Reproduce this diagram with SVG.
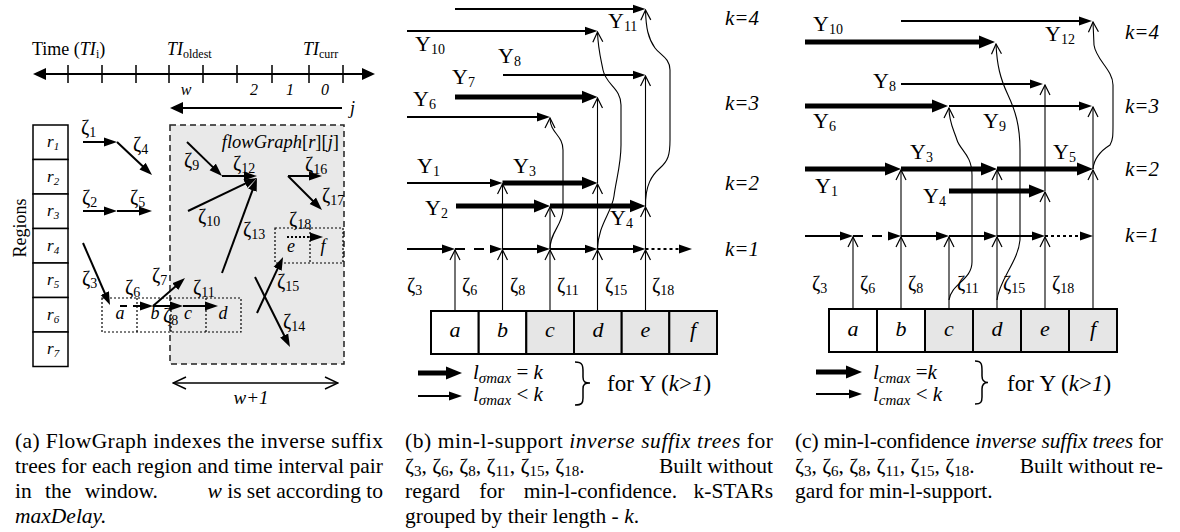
<svg xmlns="http://www.w3.org/2000/svg" width="1180" height="532" viewBox="0 0 1180 532">
<defs>
<style>
text{font-family:"Liberation Serif","DejaVu Serif",serif;fill:#000}
.it{font-style:italic}
.z{font-size:20px}
.s{font-size:14px}
.u{font-size:22px}
.us{font-size:14px}
.k{font-size:21px;font-style:italic}
.bl{font-size:22px;font-style:italic;text-anchor:middle}
.cap{font-size:21.5px}
.cs{font-size:15px}
.thin{stroke:#000;stroke-width:2;fill:none;marker-end:url(#ht)}
.thick{stroke:#000;stroke-width:5;fill:none;marker-end:url(#hk)}
.vc{stroke:#000;stroke-width:1.1;fill:none;marker-end:url(#ho)}
.cell{stroke:#000;stroke-width:2}
.g{fill:#e6e6e6}
.w{fill:#fff}
.dot{stroke:#000;stroke-width:1.2;fill:none;stroke-dasharray:2,2}
</style>
<marker id="ht" viewBox="0 -5 13 10" refX="1" refY="0" markerWidth="13" markerHeight="10" orient="auto" markerUnits="userSpaceOnUse"><path d="M0,-4.5 L13,0 L0,4.5z" fill="#000"/></marker>
<marker id="hk" viewBox="0 -7 16 14" refX="1" refY="0" markerWidth="16" markerHeight="14" orient="auto" markerUnits="userSpaceOnUse"><path d="M0,-6.5 L16,0 L0,6.5z" fill="#000"/></marker>
<marker id="ho" viewBox="-11 -6 12 12" refX="0" refY="0" markerWidth="12" markerHeight="12" orient="auto" markerUnits="userSpaceOnUse"><path d="M-10,-5 L0,0 L-10,5" fill="none" stroke="#000" stroke-width="1.2"/></marker>
<marker id="hw" viewBox="-14 -7 15 14" refX="0" refY="0" markerWidth="15" markerHeight="14" orient="auto-start-reverse" markerUnits="userSpaceOnUse"><path d="M-13,-6 L0,0 L-13,6" fill="none" stroke="#000" stroke-width="1.5"/></marker>
<marker id="hax" viewBox="0 -6 13 12" refX="1" refY="0" markerWidth="13" markerHeight="12" orient="auto-start-reverse" markerUnits="userSpaceOnUse"><path d="M0,-6 L13,0 L0,6z" fill="#000"/></marker>
</defs>
<rect width="1180" height="532" fill="#fff"/>

<!-- ================= PANEL A ================= -->
<g id="panel-a">
 <g id="time-axis">
  <line x1="45" y1="74" x2="363" y2="74" stroke="#000" stroke-width="2" marker-start="url(#hax)" marker-end="url(#hax)"/>
  <path d="M68,65V83M102,65V83M136,65V83M169,65V83M203,65V83M237,65V83M272,65V83M309,65V83M343,65V83" stroke="#000" stroke-width="1.5"/>
  <text x="32" y="55" font-size="18">Time (<tspan class="it">TI</tspan><tspan font-size="12" dy="3">i</tspan><tspan dy="-3">)</tspan></text>
  <text x="167" y="55" font-size="18"><tspan class="it">TI</tspan><tspan font-size="12" dy="3">oldest</tspan></text>
  <text x="303" y="55" font-size="18"><tspan class="it">TI</tspan><tspan font-size="12" dy="3">curr</tspan></text>
  <text class="it" font-size="16" text-anchor="middle" x="186" y="95">w</text>
  <text class="it" font-size="16" text-anchor="middle" x="254" y="95">2</text>
  <text class="it" font-size="16" text-anchor="middle" x="290" y="95">1</text>
  <text class="it" font-size="16" text-anchor="middle" x="325" y="95">0</text>
  <line x1="342" y1="108" x2="182" y2="108" stroke="#000" stroke-width="2" marker-end="url(#hax)"/>
  <text class="it" font-size="18" x="350" y="114">j</text>
 </g>
 <g id="flowgraph-area">
  <rect x="170" y="125" width="174" height="239" fill="#e9e9e9" stroke="#222" stroke-width="1.5" stroke-dasharray="6,4"/>
  <text x="339" y="147.5" font-size="18.5" text-anchor="end"><tspan class="it">flowGraph</tspan>[<tspan class="it">r</tspan>][<tspan class="it">j</tspan>]</text>
 </g>
 <g id="regions">
  <text x="26" y="228" font-size="18" text-anchor="middle" transform="rotate(-90 26 228)">Regions</text>
  <g id="r1"><rect x="33" y="125" width="35" height="34.5" fill="#fff" stroke="#000" stroke-width="1.5"/><text x="47" y="147" font-size="17" class="it">r<tspan font-size="11" dy="3">1</tspan></text></g>
  <g id="r2"><rect x="33" y="159.5" width="35" height="34.5" fill="#fff" stroke="#000" stroke-width="1.5"/><text x="47" y="181.5" font-size="17" class="it">r<tspan font-size="11" dy="3">2</tspan></text></g>
  <g id="r3"><rect x="33" y="194" width="35" height="34.5" fill="#fff" stroke="#000" stroke-width="1.5"/><text x="47" y="216" font-size="17" class="it">r<tspan font-size="11" dy="3">3</tspan></text></g>
  <g id="r4"><rect x="33" y="228.5" width="35" height="34.5" fill="#fff" stroke="#000" stroke-width="1.5"/><text x="47" y="250.5" font-size="17" class="it">r<tspan font-size="11" dy="3">4</tspan></text></g>
  <g id="r5"><rect x="33" y="263" width="35" height="34.5" fill="#fff" stroke="#000" stroke-width="1.5"/><text x="47" y="285" font-size="17" class="it">r<tspan font-size="11" dy="3">5</tspan></text></g>
  <g id="r6"><rect x="33" y="297.5" width="35" height="34.5" fill="#fff" stroke="#000" stroke-width="1.5"/><text x="47" y="319.5" font-size="17" class="it">r<tspan font-size="11" dy="3">6</tspan></text></g>
  <g id="r7"><rect x="33" y="332" width="35" height="34.5" fill="#fff" stroke="#000" stroke-width="1.5"/><text x="47" y="354" font-size="17" class="it">r<tspan font-size="11" dy="3">7</tspan></text></g>
 </g>
 <g id="cells-abcd">
  <rect x="102" y="298" width="139" height="34" class="dot"/>
  <path d="M137,298V332M171,298V332M206,298V332" class="dot"/>
  <text class="it" font-size="18" text-anchor="middle" x="120" y="319">a</text>
  <text class="it" font-size="18" text-anchor="middle" x="155" y="319">b</text>
  <text class="it" font-size="18" text-anchor="middle" x="188" y="319">c</text>
  <text class="it" font-size="18" text-anchor="middle" x="223" y="319">d</text>
 </g>
 <g id="cells-ef">
  <rect x="275" y="228" width="68" height="35" class="dot"/>
  <path d="M310,228V263" class="dot"/>
  <text class="it" font-size="18" text-anchor="middle" x="291" y="252">e</text>
  <text class="it" font-size="18" text-anchor="middle" x="323" y="252">f</text>
 </g>
 <g id="connectors-a">
  <line x1="83" y1="142" x2="105" y2="142" class="thin"/>
  <line x1="117" y1="142" x2="143.3" y2="166.8" class="thin"/>
  <line x1="83" y1="211" x2="105" y2="211" class="thin"/>
  <line x1="117" y1="211" x2="140" y2="211" class="thin"/>
  <line x1="83" y1="243" x2="105.2" y2="294" class="thin"/>
  <line x1="120" y1="306" x2="141" y2="306" class="thin" stroke-dasharray="7,6"/>
  <line x1="153" y1="306" x2="171" y2="306" class="thin"/>
  <line x1="183" y1="306" x2="206" y2="306" class="thin"/>
  <line x1="153" y1="306" x2="176" y2="285.9" class="thin"/>
  <line x1="222" y1="273" x2="252.8" y2="189.3" class="thin"/>
  <line x1="188" y1="211" x2="246.2" y2="183.2" class="thin"/>
  <line x1="187" y1="142" x2="213.4" y2="167.6" class="thin"/>
  <line x1="222" y1="176" x2="245" y2="176" class="thin"/>
  <line x1="288" y1="176" x2="310" y2="176" class="thin"/>
  <line x1="288" y1="176" x2="313.5" y2="201.5" class="thin"/>
  <line x1="287" y1="237" x2="311" y2="237" class="thin" stroke-dasharray="2,2"/>
  <line x1="257" y1="313" x2="278" y2="267.9" class="thin"/>
  <line x1="255" y1="277" x2="284.6" y2="336.3" class="thin"/>
  <line x1="173" y1="383" x2="338" y2="383" stroke="#000" stroke-width="1.5" marker-start="url(#hw)" marker-end="url(#hw)"/>
 </g>
 <g id="labels-a">
  <text class="z" x="81" y="134">ζ<tspan class="s" dy="3">1</tspan></text>
  <text class="z" x="133" y="151">ζ<tspan class="s" dy="3">4</tspan></text>
  <text class="z" x="82" y="204">ζ<tspan class="s" dy="3">2</tspan></text>
  <text class="z" x="130" y="204">ζ<tspan class="s" dy="3">5</tspan></text>
  <text class="z" x="82" y="285">ζ<tspan class="s" dy="3">3</tspan></text>
  <text class="z" x="125" y="294">ζ<tspan class="s" dy="3">6</tspan></text>
  <text class="z" x="152" y="282">ζ<tspan class="s" dy="3">7</tspan></text>
  <text class="z" x="163" y="322">ζ<tspan class="s" dy="3">8</tspan></text>
  <text class="z" x="193" y="294">ζ<tspan class="s" dy="3">11</tspan></text>
  <text class="z" x="184" y="167">ζ<tspan class="s" dy="3">9</tspan></text>
  <text class="z" x="198" y="223">ζ<tspan class="s" dy="3">10</tspan></text>
  <text class="z" x="233" y="170">ζ<tspan class="s" dy="3">12</tspan></text>
  <text class="z" x="243" y="236">ζ<tspan class="s" dy="3">13</tspan></text>
  <text class="z" x="305" y="171">ζ<tspan class="s" dy="3">16</tspan></text>
  <text class="z" x="322" y="202">ζ<tspan class="s" dy="3">17</tspan></text>
  <text class="z" x="289" y="226">ζ<tspan class="s" dy="3">18</tspan></text>
  <text class="z" x="277" y="288">ζ<tspan class="s" dy="3">15</tspan></text>
  <text class="z" x="283" y="328">ζ<tspan class="s" dy="3">14</tspan></text>
  <text class="it" font-size="19" text-anchor="middle" x="251" y="404">w+1</text>
 </g>
</g>

<!-- ================= PANEL B ================= -->
<g id="panel-b">
 <g id="cells-b">
  <rect x="431" y="311" width="47.7" height="43" class="cell w"/>
  <rect x="478.7" y="311" width="47.6" height="43" class="cell w"/>
  <rect x="526.3" y="311" width="47.7" height="43" class="cell g"/>
  <rect x="574" y="311" width="47.7" height="43" class="cell g"/>
  <rect x="621.7" y="311" width="47.6" height="43" class="cell g"/>
  <rect x="669.3" y="311" width="47.7" height="43" class="cell g"/>
  <text class="bl" x="455" y="337">a</text>
  <text class="bl" x="502.5" y="337">b</text>
  <text class="bl" x="550" y="337">c</text>
  <text class="bl" x="598" y="337">d</text>
  <text class="bl" x="645.5" y="337">e</text>
  <text class="bl" x="693" y="337">f</text>
 </g>
 <g id="connectors-b">
  <line x1="455" y1="9" x2="633.5" y2="9" class="thin"/>
  <line x1="407" y1="31" x2="585.5" y2="31" class="thin"/>
  <line x1="503" y1="75" x2="633.5" y2="75" class="thin"/>
  <line x1="455" y1="97" x2="582.5" y2="97" class="thick"/>
  <line x1="407" y1="117" x2="538" y2="117" class="thin"/>
  <line x1="407" y1="183" x2="490.5" y2="183" class="thin"/>
  <line x1="502.5" y1="183" x2="582.5" y2="183" class="thick"/>
  <line x1="456" y1="206" x2="535" y2="206" class="thick"/>
  <line x1="550" y1="206" x2="630.5" y2="206" class="thick"/>
  <line x1="407" y1="249" x2="443" y2="249" class="thin"/>
  <line x1="455" y1="249" x2="490.5" y2="249" class="thin" stroke-dasharray="10,9"/>
  <line x1="502.5" y1="249" x2="538" y2="249" class="thin"/>
  <line x1="550" y1="249" x2="585.5" y2="249" class="thin"/>
  <line x1="597.5" y1="249" x2="633.5" y2="249" class="thin"/>
  <line x1="645.5" y1="249" x2="680" y2="249" class="thin" stroke-dasharray="3,3"/>
  <line x1="455" y1="311" x2="455" y2="250" class="vc"/>
  <line x1="502.5" y1="311" x2="502.5" y2="250" class="vc"/>
  <line x1="502.5" y1="249" x2="502.5" y2="184" class="vc"/>
  <line x1="550" y1="311" x2="550" y2="250" class="vc"/>
  <line x1="550" y1="249" x2="550" y2="207" class="vc"/>
  <line x1="597.5" y1="311" x2="597.5" y2="250" class="vc"/>
  <line x1="597.5" y1="249" x2="597.5" y2="184" class="vc"/>
  <line x1="597.5" y1="183" x2="597.5" y2="98" class="vc"/>
  <line x1="645.5" y1="311" x2="645.5" y2="250" class="vc"/>
  <line x1="645.5" y1="249" x2="645.5" y2="207" class="vc"/>
  <line x1="645.5" y1="206" x2="645.5" y2="76" class="vc"/>
  <path d="M550,249 C550,232 562,226 563,210 L563,150 C563,135 550,133 550,118" class="vc"/>
  <path d="M597.5,249 C598,225 612,212 614,196 C616,180 621,165 621,145 L621,105 C621,88 606,85 603,70 C600,55 598,48 597.5,32" class="vc"/>
  <path d="M645.5,207 C645,185 652,175 660,168 C668,161 670,155 670,140 L670,70 C670,58 660,55 655,48 C648,38 646,28 645.5,10" class="vc"/>
 </g>
 <g id="labels-b">
  <text class="u" x="608" y="28">Υ<tspan class="us" dy="3">11</tspan></text>
  <text class="u" x="415" y="51">Υ<tspan class="us" dy="3">10</tspan></text>
  <text class="u" x="498" y="63">Υ<tspan class="us" dy="3">8</tspan></text>
  <text class="u" x="452" y="84">Υ<tspan class="us" dy="3">7</tspan></text>
  <text class="u" x="413" y="106">Υ<tspan class="us" dy="3">6</tspan></text>
  <text class="u" x="417" y="173">Υ<tspan class="us" dy="3">1</tspan></text>
  <text class="u" x="513" y="173">Υ<tspan class="us" dy="3">3</tspan></text>
  <text class="u" x="425" y="215">Υ<tspan class="us" dy="3">2</tspan></text>
  <text class="u" x="610" y="225">Υ<tspan class="us" dy="3">4</tspan></text>
  <text class="k" x="725" y="25">k=4</text>
  <text class="k" x="725" y="110">k=3</text>
  <text class="k" x="725" y="190">k=2</text>
  <text class="k" x="725" y="256">k=1</text>
  <text class="z" x="407" y="292">ζ<tspan class="s" dy="3">3</tspan></text>
  <text class="z" x="462" y="292">ζ<tspan class="s" dy="3">6</tspan></text>
  <text class="z" x="510" y="292">ζ<tspan class="s" dy="3">8</tspan></text>
  <text class="z" x="557" y="292">ζ<tspan class="s" dy="3">11</tspan></text>
  <text class="z" x="605" y="292">ζ<tspan class="s" dy="3">15</tspan></text>
  <text class="z" x="652" y="292">ζ<tspan class="s" dy="3">18</tspan></text>
 </g>
 <g id="legend-b">
  <line x1="418" y1="373" x2="447" y2="373" class="thick"/>
  <line x1="418" y1="396" x2="450" y2="396" class="thin"/>
  <text font-size="21"><tspan x="473" y="379"><tspan class="it">l</tspan><tspan class="it" font-size="15" dy="4">σmax</tspan><tspan dy="-4"> = </tspan><tspan class="it">k</tspan></tspan><tspan x="473" y="401"><tspan class="it">l</tspan><tspan class="it" font-size="15" dy="4">σmax</tspan><tspan dy="-4"> &lt; </tspan><tspan class="it">k</tspan></tspan></text>
  <path d="M575,362 C583,362 583,366 583,372 L583,377 C583,382 585,383 590,383 C585,383 583,384 583,389 L583,398 C583,403 582,405 575,405" fill="none" stroke="#000" stroke-width="1.5"/>
  <text x="607" y="391" font-size="23">for Υ (<tspan class="it">k</tspan>&gt;<tspan class="it">1</tspan>)</text>
 </g>
</g>

<!-- ================= PANEL C ================= -->
<g id="panel-c">
 <g id="cells-c">
  <rect x="829" y="309" width="48" height="43" class="cell w"/>
  <rect x="877" y="309" width="48" height="43" class="cell w"/>
  <rect x="925" y="309" width="48" height="43" class="cell g"/>
  <rect x="973" y="309" width="48" height="43" class="cell g"/>
  <rect x="1021" y="309" width="48" height="43" class="cell g"/>
  <rect x="1069" y="309" width="48" height="43" class="cell g"/>
  <text class="bl" x="853" y="336">a</text>
  <text class="bl" x="901" y="336">b</text>
  <text class="bl" x="949" y="336">c</text>
  <text class="bl" x="997" y="336">d</text>
  <text class="bl" x="1045" y="336">e</text>
  <text class="bl" x="1093" y="336">f</text>
 </g>
 <g id="connectors-c">
  <line x1="901" y1="21" x2="1080" y2="21" class="thin"/>
  <line x1="805" y1="42" x2="980" y2="42" class="thick"/>
  <line x1="901" y1="84" x2="1031" y2="84" class="thin"/>
  <line x1="805" y1="106" x2="933" y2="106" class="thick"/>
  <line x1="949" y1="106" x2="1080" y2="106" class="thin"/>
  <line x1="805" y1="169" x2="886" y2="169" class="thick"/>
  <line x1="901" y1="169" x2="982" y2="169" class="thick"/>
  <line x1="997" y1="169" x2="1078" y2="169" class="thick"/>
  <line x1="949" y1="191" x2="1030" y2="191" class="thick"/>
  <line x1="805" y1="236" x2="841" y2="236" class="thin"/>
  <line x1="853" y1="236" x2="889" y2="236" class="thin" stroke-dasharray="10,9"/>
  <line x1="901" y1="236" x2="937" y2="236" class="thin"/>
  <line x1="949" y1="236" x2="985" y2="236" class="thin"/>
  <line x1="997" y1="236" x2="1033" y2="236" class="thin"/>
  <line x1="1045" y1="236" x2="1081" y2="236" class="thin" stroke-dasharray="3,3"/>
  <line x1="853" y1="309" x2="853" y2="237" class="vc"/>
  <line x1="901" y1="309" x2="901" y2="237" class="vc"/>
  <line x1="901" y1="236" x2="901" y2="170" class="vc"/>
  <line x1="949" y1="309" x2="949" y2="237" class="vc"/>
  <line x1="997" y1="309" x2="997" y2="237" class="vc"/>
  <line x1="997" y1="236" x2="997" y2="170" class="vc"/>
  <line x1="1045" y1="309" x2="1045" y2="237" class="vc"/>
  <line x1="1045" y1="236" x2="1045" y2="192" class="vc"/>
  <line x1="1045" y1="191" x2="1045" y2="85" class="vc"/>
  <line x1="1093" y1="309" x2="1093" y2="170" class="vc"/>
  <line x1="1093" y1="169" x2="1093" y2="107" class="vc"/>
  <path d="M949,300 C951,284 972,280 972,262 L972,175 C972,155 960,150 957,140 C953,128 949,122 949,108" class="vc"/>
  <path d="M997,300 C999,280 1018,262 1020,240 L1020,150 C1020,125 1015,110 1008,95 C1000,78 997,65 996,44" class="vc"/>
  <path d="M1093,169 C1094,158 1102,150 1110,145 C1113,140 1113,135 1113,125 L1113,85 C1113,70 1096,60 1094,45 L1093,22" class="vc"/>
 </g>
 <g id="labels-c">
  <text class="u" x="813" y="31">Υ<tspan class="us" dy="3">10</tspan></text>
  <text class="u" x="1045" y="41">Υ<tspan class="us" dy="3">12</tspan></text>
  <text class="u" x="873" y="88">Υ<tspan class="us" dy="3">8</tspan></text>
  <text class="u" x="813" y="128">Υ<tspan class="us" dy="3">6</tspan></text>
  <text class="u" x="983" y="128">Υ<tspan class="us" dy="3">9</tspan></text>
  <text class="u" x="910" y="159">Υ<tspan class="us" dy="3">3</tspan></text>
  <text class="u" x="1053" y="159">Υ<tspan class="us" dy="3">5</tspan></text>
  <text class="u" x="815" y="193">Υ<tspan class="us" dy="3">1</tspan></text>
  <text class="u" x="923" y="203">Υ<tspan class="us" dy="3">4</tspan></text>
  <text class="k" x="1125" y="39">k=4</text>
  <text class="k" x="1125" y="113">k=3</text>
  <text class="k" x="1125" y="176">k=2</text>
  <text class="k" x="1125" y="242">k=1</text>
  <text class="z" x="812" y="290">ζ<tspan class="s" dy="3">3</tspan></text>
  <text class="z" x="860" y="290">ζ<tspan class="s" dy="3">6</tspan></text>
  <text class="z" x="908" y="290">ζ<tspan class="s" dy="3">8</tspan></text>
  <text class="z" x="957" y="290">ζ<tspan class="s" dy="3">11</tspan></text>
  <text class="z" x="1003" y="290">ζ<tspan class="s" dy="3">15</tspan></text>
  <text class="z" x="1052" y="290">ζ<tspan class="s" dy="3">18</tspan></text>
 </g>
 <g id="legend-c">
  <line x1="816" y1="372" x2="847" y2="372" class="thick"/>
  <line x1="816" y1="394" x2="850" y2="394" class="thin"/>
  <text font-size="21"><tspan x="873" y="379"><tspan class="it">l</tspan><tspan class="it" font-size="15" dy="4">cmax</tspan><tspan dy="-4"> =</tspan><tspan class="it">k</tspan></tspan><tspan x="873" y="401"><tspan class="it">l</tspan><tspan class="it" font-size="15" dy="4">cmax</tspan><tspan dy="-4"> &lt; </tspan><tspan class="it">k</tspan></tspan></text>
  <path d="M975,361 C982,361 982,365 982,371 L982,376 C982,381 984,382.5 988,382.5 C984,382.5 982,384 982,389 L982,397 C982,402 981,404 975,404" fill="none" stroke="#000" stroke-width="1.5"/>
  <text x="1007" y="391" font-size="23">for Υ (<tspan class="it">k</tspan>&gt;<tspan class="it">1</tspan>)</text>
 </g>
</g>

<!-- ================= CAPTIONS ================= -->
<g id="captions">
 <text class="cap" x="15" y="448" textLength="368" lengthAdjust="spacing">(a) FlowGraph indexes the inverse suffix</text>
 <text class="cap" x="15" y="473" textLength="368" lengthAdjust="spacing">trees for each region and time interval pair</text>
 <text class="cap" x="15" y="498" word-spacing="8">in the window.</text>
 <text class="cap" x="383" y="498" text-anchor="end"><tspan class="it">w</tspan> is set according to</text>
 <text class="cap it" x="15" y="523">maxDelay.</text>

 <text class="cap" x="405" y="448" textLength="368" lengthAdjust="spacing">(b) min-l-support <tspan class="it">inverse suffix trees</tspan> for</text>
 <text class="cap" x="405" y="473">ζ<tspan class="cs" dy="3">3</tspan><tspan dy="-3">, ζ</tspan><tspan class="cs" dy="3">6</tspan><tspan dy="-3">, ζ</tspan><tspan class="cs" dy="3">8</tspan><tspan dy="-3">, ζ</tspan><tspan class="cs" dy="3">11</tspan><tspan dy="-3">, ζ</tspan><tspan class="cs" dy="3">15</tspan><tspan dy="-3">, ζ</tspan><tspan class="cs" dy="3">18</tspan><tspan dy="-3">.</tspan></text>
 <text class="cap" x="773" y="473" text-anchor="end">Built without</text>
 <text class="cap" x="405" y="498" word-spacing="14">regard for min-l-confidence.</text>
 <text class="cap" x="773" y="498" text-anchor="end">k-STARs</text>
 <text class="cap" x="405" y="523">grouped by their length - <tspan class="it">k</tspan>.</text>

 <text class="cap" x="795" y="448" textLength="368" lengthAdjust="spacing">(c) min-l-confidence <tspan class="it">inverse suffix trees</tspan> for</text>
 <text class="cap" x="795" y="473">ζ<tspan class="cs" dy="3">3</tspan><tspan dy="-3">, ζ</tspan><tspan class="cs" dy="3">6</tspan><tspan dy="-3">, ζ</tspan><tspan class="cs" dy="3">8</tspan><tspan dy="-3">, ζ</tspan><tspan class="cs" dy="3">11</tspan><tspan dy="-3">, ζ</tspan><tspan class="cs" dy="3">15</tspan><tspan dy="-3">, ζ</tspan><tspan class="cs" dy="3">18</tspan><tspan dy="-3">.</tspan></text>
 <text class="cap" x="1163" y="473" text-anchor="end">Built without re-</text>
 <text class="cap" x="795" y="498">gard for min-l-support.</text>
</g>
</svg>
